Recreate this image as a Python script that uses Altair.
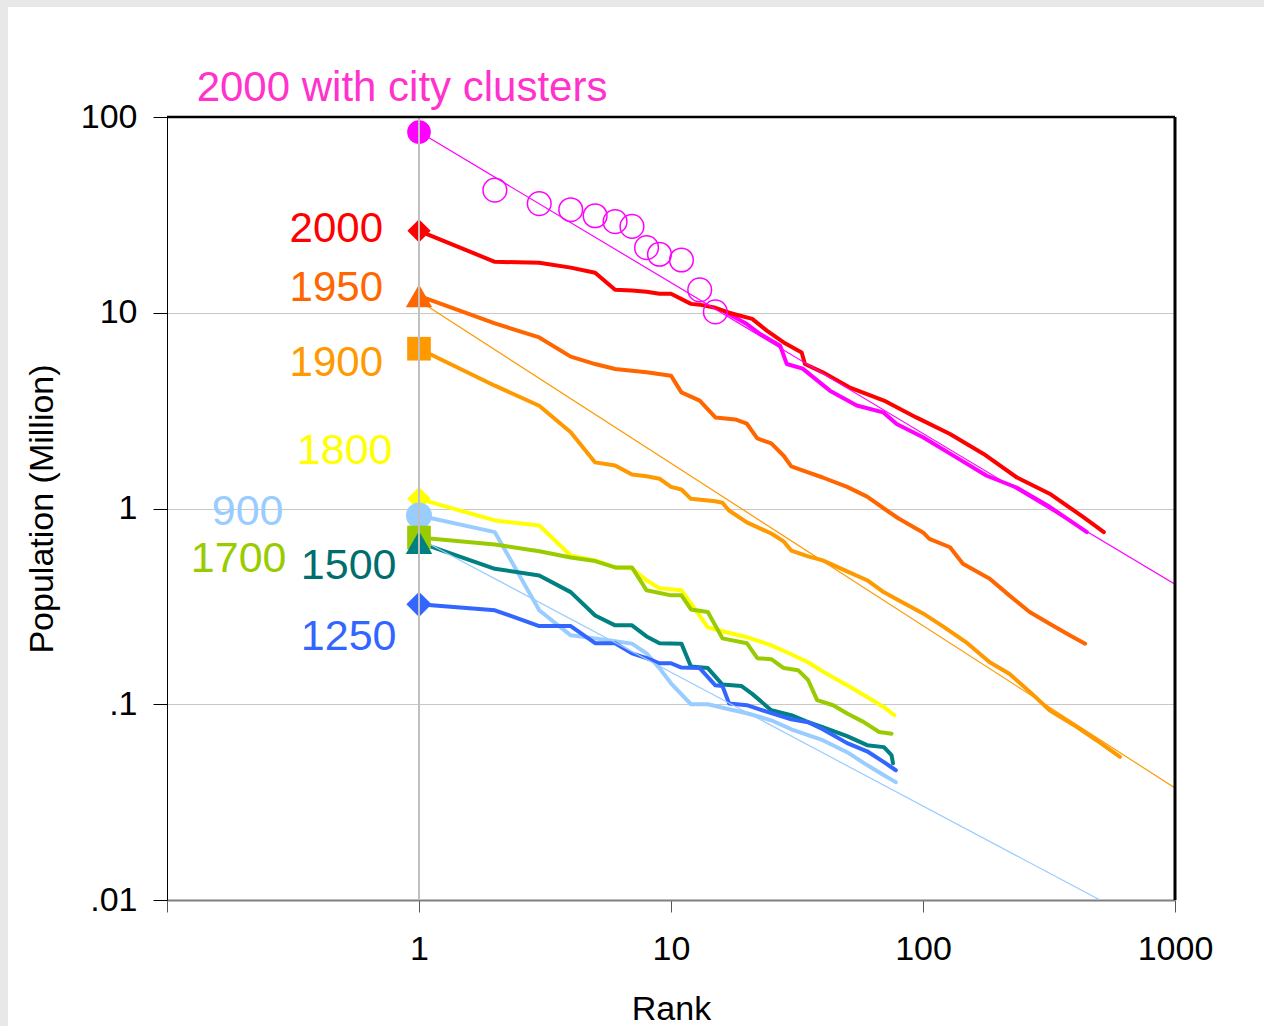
import altair as alt
import pandas as pd

FONT = "Liberation Sans"

# ---------------- data ----------------
# 2000 with city clusters
clu_top_rank = [1]
clu_top_pop = [83.8]
clu_circ_rank = [2, 3, 4, 5, 6, 7, 8, 9, 11, 13, 15]
clu_circ_pop = [42.3, 36.1, 33.6, 31.3, 29.2, 27.6, 21.5, 19.9, 18.6, 13.1, 10.1]
clu_rank = [16.6, 20, 22.5, 27.1, 28.8, 33.3, 42.7, 54.6, 69.5, 78.6, 100, 135, 179, 235, 318, 447]
clu_pop = [10.0, 8.75, 7.81, 6.79, 5.47, 5.18, 4.0, 3.36, 3.10, 2.70, 2.31, 1.83, 1.47, 1.28, 1.02, 0.757]

y2000_rank = [1, 2, 3, 4, 5, 6, 7, 8, 9, 10, 12, 13, 15, 17, 21, 24, 28, 33, 34, 40,
              51, 70, 94, 128, 174, 236, 318, 433, 522]
y2000_pop = [26.2, 18.2, 18.0, 17.0, 16.0, 13.1, 13.0, 12.8, 12.5, 12.5, 11.1, 11.0, 10.6, 10.0,
             9.3, 8.1, 7.05, 6.27, 5.47, 4.96, 4.16, 3.56, 2.92, 2.40, 1.90, 1.44, 1.19, 0.904, 0.757]

y1950_rank = [1, 2, 3, 4, 5, 6, 7, 8, 10, 11, 13, 15, 18, 20, 22, 25, 28, 30, 35, 40,
              50, 60, 70, 80, 100, 106, 128, 144, 184, 220, 265, 318, 382, 440]
y1950_pop = [12.2, 8.82, 7.48, 5.97, 5.47, 5.16, 5.06, 4.96, 4.77, 3.92, 3.56, 2.92, 2.85, 2.71,
             2.28, 2.15, 1.86, 1.64, 1.53, 1.44, 1.29, 1.15, 1.0, 0.889, 0.755, 0.70, 0.634,
             0.522, 0.438, 0.36, 0.296, 0.258, 0.225, 0.204]

y1900_rank = [1, 2, 3, 4, 5, 6, 7, 8, 9, 10, 11, 12, 15, 16, 17, 20, 25, 28, 30, 35,
              40, 50, 60, 70, 80, 100, 120, 150, 184, 220, 265, 318, 407, 488, 605]
y1900_pop = [6.55, 4.24, 3.35, 2.45, 1.72, 1.66, 1.49, 1.46, 1.42, 1.29, 1.25, 1.12, 1.09, 1.07,
             0.977, 0.849, 0.745, 0.679, 0.61, 0.569, 0.543, 0.477, 0.43, 0.373, 0.34, 0.291,
             0.25, 0.205, 0.164, 0.143, 0.116, 0.0932, 0.0766, 0.0655, 0.0538]

y1800_rank = [1, 2, 3, 4, 5, 6, 7, 8, 9, 10, 11, 12, 14, 16, 20, 25, 30, 35, 40, 50, 60, 70, 77]
y1800_pop = [1.12, 0.869, 0.819, 0.575, 0.543, 0.5, 0.494, 0.43, 0.391, 0.387, 0.382, 0.327,
             0.247, 0.236, 0.22, 0.2, 0.18, 0.164, 0.147, 0.125, 0.109, 0.0966, 0.0879]

y1700_rank = [1, 2, 3, 4, 5, 6, 7, 8, 10, 11, 12, 14, 16, 20, 22, 25, 28, 32, 35, 38,
              44, 50, 58, 67, 75]
y1700_pop = [0.711, 0.655, 0.605, 0.562, 0.539, 0.5, 0.5, 0.382, 0.36, 0.36, 0.305, 0.296,
             0.217, 0.205, 0.172, 0.17, 0.153, 0.149, 0.133, 0.105, 0.0988, 0.0897, 0.0813,
             0.0722, 0.0707]

y1500_rank = [1, 2, 3, 4, 5, 6, 7, 8, 9, 11, 12, 14, 16, 19, 21, 25, 30, 35, 40, 50, 60, 70, 75, 76]
y1500_pop = [0.671, 0.492, 0.455, 0.374, 0.284, 0.253, 0.253, 0.222, 0.205, 0.204, 0.156, 0.153,
             0.126, 0.124, 0.113, 0.0932, 0.0879, 0.081, 0.0763, 0.0687, 0.0618, 0.0604, 0.055, 0.05]

y1250_rank = [1, 2, 3, 4, 5, 6, 7, 8, 9, 10, 11, 13, 15, 16, 17, 20, 25, 30, 35, 40, 50, 60, 70, 78]
y1250_pop = [0.324, 0.302, 0.251, 0.251, 0.205, 0.205, 0.182, 0.172, 0.162, 0.162, 0.154, 0.153,
             0.125, 0.124, 0.101, 0.0989, 0.09, 0.0838, 0.081, 0.0745, 0.0633, 0.0575, 0.0506, 0.046]

y900_rank = [1, 2, 3, 4, 5, 6, 7, 8, 9, 10, 12, 14, 17, 20, 25, 30, 35, 40, 50, 60, 70, 78]
y900_pop = [0.921, 0.757, 0.302, 0.225, 0.217, 0.21, 0.204, 0.182, 0.153, 0.128, 0.1, 0.1,
            0.0943, 0.09, 0.0828, 0.0745, 0.0695, 0.0655, 0.0569, 0.0489, 0.0434, 0.04]

# thin fitted lines
fit_clu_rank = [1, 1000]
fit_clu_pop = [84, 0.41]
fit_1900_rank = [1, 1000]
fit_1900_pop = [11.5, 0.0373]
fit_900_rank = [1, 504]
fit_900_pop = [0.703, 0.01]

# axis ticks
x_ticks = [0.1, 1, 10, 100, 1000]
x_tick_labels = ["", "1", "10", "100", "1000"]
y_ticks = [0.01, 0.1, 1, 10, 100]
y_tick_labels = [".01", ".1", "1", "10", "100"]

# series labels (text, anchor rank, anchor population)
label_text = ["2000", "1950", "1900", "1800", "900", "1700", "1500", "1250"]
label_rank = [0.72, 0.72, 0.72, 0.785, 0.29, 0.298, 0.814, 0.814]
label_pop = [26.9, 13.35, 5.53, 1.958, 0.9575, 0.5538, 0.5072, 0.2205]
title_text = "2000 with city clusters"
title_rank = 0.1311
title_pop = 141.3

# ---------------- styles ----------------
COL = {
    "clusters": "#FF00FF", "2000": "#FF0000", "1950": "#FF6600", "1900": "#FF9900",
    "1800": "#FFFF00", "900": "#99CCFF", "1700": "#99CC00", "1500": "#008080", "1250": "#3366FF",
}
LABEL_COL = {
    "2000": "#FF0000", "1950": "#FF6600", "1900": "#FF9900", "1800": "#FFFF00", "900": "#99CCFF",
    "1700": "#99CC00", "1500": "#006E6E", "1250": "#3366FF",
}
LABEL_SIZE = {"2000": 42, "1950": 42, "1900": 42, "1800": 43, "900": 43, "1700": 43,
              "1500": 43, "1250": 43}
SHAPE = {"2000": "diamond", "1950": "triangle-up", "1900": "square", "1800": "diamond",
         "900": "circle", "1700": "square", "1500": "triangle-up", "1250": "diamond"}
MSIZE = {"2000": 540, "1950": 700, "1900": 560, "1800": 560, "900": 680, "1700": 560,
         "1500": 700, "1250": 640}

series = [
    ("clusters", clu_rank, clu_pop),
    ("2000", y2000_rank, y2000_pop),
    ("1950", y1950_rank, y1950_pop),
    ("1900", y1900_rank, y1900_pop),
    ("900", y900_rank, y900_pop),
    ("1800", y1800_rank, y1800_pop),
    ("1700", y1700_rank, y1700_pop),
    ("1500", y1500_rank, y1500_pop),
    ("1250", y1250_rank, y1250_pop),
]
marker_order = ["2000", "1950", "1900", "1800", "900", "1700", "1500", "1250"]
series_map = {n: (r, p) for n, r, p in series}


def label_expr(vals, labels):
    expr = "''"
    for v, l in zip(vals, labels):
        expr = f"(abs(datum.value - {v}) < {v} * 0.001) ? '{l}' : ({expr})"
    return expr


xscale = alt.Scale(type="log", domain=[0.1, 1000], nice=False)
yscale = alt.Scale(type="log", domain=[0.01, 100], nice=False)

x_axis = alt.Axis(
    values=x_ticks, labelExpr=label_expr(x_ticks, x_tick_labels), grid=False,
    domainColor="#7f7f7f", domainWidth=2, tickColor="#555555", tickSize=12, tickWidth=1,
    labelFont=FONT, labelFontSize=34, labelColor="black", labelPadding=20,
    labelFlush=False, labelOverlap=False,
    title="Rank", titleFont=FONT, titleFontSize=34, titleFontWeight="normal",
    titleColor="black", titleY=92, titleBaseline="top",
)
y_axis = alt.Axis(
    values=y_ticks, labelExpr=label_expr(y_ticks, y_tick_labels), grid=True,
    gridColor="#c8c8c8", gridWidth=1, domainColor="black", domainWidth=1,
    tickColor="black", tickSize=14, tickWidth=1,
    labelFont=FONT, labelFontSize=34, labelColor="black", labelPadding=16,
    labelFlush=False, labelOverlap=False,
    title="Population (Million)", titleFont=FONT, titleFontSize=34, titleFontWeight="normal",
    titleColor="black", titleX=-142, titleY=391.5, titleAngle=270, titleBaseline="top",
    titleAlign="center",
)


def X():
    return alt.X("rank:Q", scale=xscale, axis=x_axis)


def Y():
    return alt.Y("pop:Q", scale=yscale, axis=y_axis)


def df(r, p):
    return pd.DataFrame({"rank": r, "pop": p})


layers = []

# page frame band (decoration, outside plot)
band = pd.DataFrame({"k": [0]})
layers.append(alt.Chart(band).mark_rect(color="#e8e8e8").encode(
    x=alt.value(-167), x2=alt.value(-159), y=alt.value(-117), y2=alt.value(909)))
layers.append(alt.Chart(band).mark_rect(color="#e8e8e8").encode(
    x=alt.value(-167), x2=alt.value(1097), y=alt.value(-117), y2=alt.value(-110)))

# thick data lines
for name, r, p in series:
    layers.append(alt.Chart(df(r, p)).mark_line(
        color=COL[name], strokeWidth=4, strokeCap="round", strokeJoin="round", clip=True
    ).encode(x=X(), y=Y()))

# thin fitted lines
for r, p, c in [(fit_clu_rank, fit_clu_pop, COL["clusters"]),
                (fit_1900_rank, fit_1900_pop, COL["1900"]),
                (fit_900_rank, fit_900_pop, COL["900"])]:
    layers.append(alt.Chart(df(r, p)).mark_line(
        color=c, strokeWidth=1.2, clip=True).encode(x=X(), y=Y()))

# cluster circles
layers.append(alt.Chart(df(clu_circ_rank, clu_circ_pop)).mark_point(
    shape="circle", filled=False, size=560, strokeWidth=1.5, color=COL["clusters"], opacity=1
).encode(x=X(), y=Y()))
layers.append(alt.Chart(df(clu_top_rank, clu_top_pop)).mark_point(
    shape="circle", filled=True, size=560, color=COL["clusters"], opacity=1, strokeWidth=0
).encode(x=X(), y=Y()))

# first-rank markers
for name in marker_order:
    r, p = series_map[name]
    layers.append(alt.Chart(df(r[:1], p[:1])).mark_point(
        shape=SHAPE[name], filled=True, size=MSIZE[name], color=COL[name], opacity=1,
        strokeWidth=0
    ).encode(x=X(), y=Y()))

# vertical line at rank 1, top and right frame
layers.append(alt.Chart(pd.DataFrame({"rank": [1]})).mark_rule(
    color="#c0c0c0", strokeWidth=2).encode(x=X()))
layers.append(alt.Chart(pd.DataFrame({"pop": [100]})).mark_rule(
    color="black", strokeWidth=2.5).encode(y=Y()))
layers.append(alt.Chart(pd.DataFrame({"rank": [1000]})).mark_rule(
    color="black", strokeWidth=3).encode(x=X()))

# series labels
for t, r, p in zip(label_text, label_rank, label_pop):
    layers.append(alt.Chart(pd.DataFrame({"rank": [r], "pop": [p], "t": [t]})).mark_text(
        align="right", baseline="middle", font=FONT, fontSize=LABEL_SIZE[t],
        color=LABEL_COL[t]
    ).encode(x=X(), y=Y(), text="t:N"))
layers.append(alt.Chart(pd.DataFrame({"rank": [title_rank], "pop": [title_pop],
                                      "t": [title_text]})).mark_text(
    align="left", baseline="middle", font=FONT, fontSize=42, color="#FF33CC"
).encode(x=X(), y=Y(), text="t:N"))

chart = alt.layer(*layers).properties(
    width=1008, height=783,
    padding={"left": 167, "top": 117, "right": 89, "bottom": 126},
    autosize=alt.AutoSizeParams(type="none"),
    background="white",
).configure_view(stroke=None)

chart.save("out.html", embed_options={"renderer": "svg", "actions": False})
